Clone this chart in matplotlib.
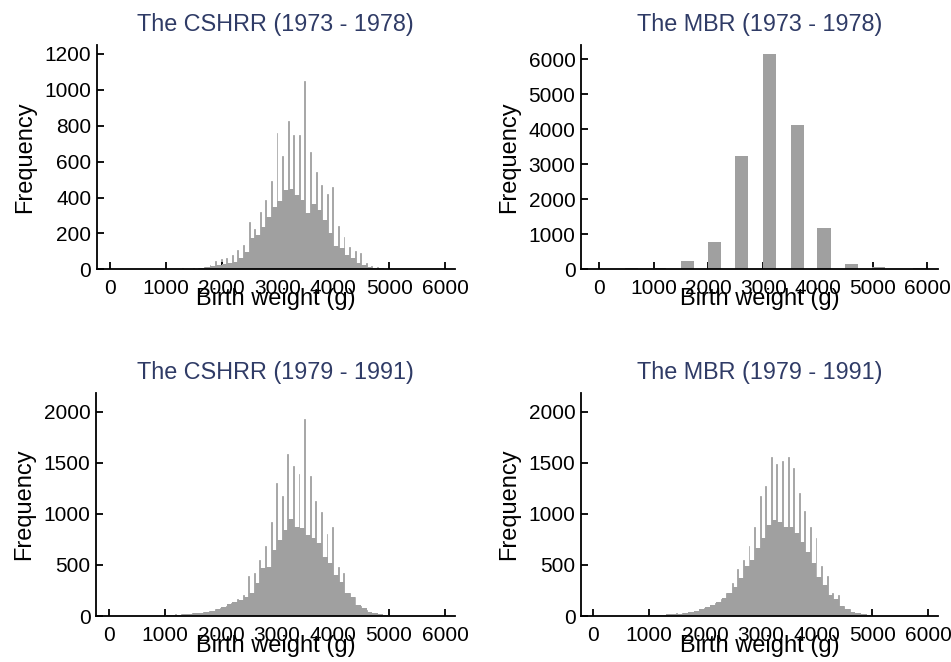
import matplotlib
matplotlib.use("Agg")
import matplotlib.pyplot as plt

plt.rcParams['font.family'] = ['Liberation Sans', 'DejaVu Sans']

# ---- data -------------------------------------------------------------
# 100 g grid of birth weights (g)
weight_grid = [0, 100, 200, 300, 400, 500, 600, 700, 800, 900,
               1000, 1100, 1200, 1300, 1400, 1500, 1600, 1700, 1800, 1900,
               2000, 2100, 2200, 2300, 2400, 2500, 2600, 2700, 2800, 2900,
               3000, 3100, 3200, 3300, 3400, 3500, 3600, 3700, 3800, 3900,
               4000, 4100, 4200, 4300, 4400, 4500, 4600, 4700, 4800, 4900,
               5000, 5100, 5200, 5300, 5400, 5500, 5600, 5700, 5800, 5900,
               6000]

# CSHRR 1973-1978: counts at exact hundreds (heaping) and in-between counts
cshrr7378_spike = [0, 0, 0, 0, 0, 0, 0, 0, 0, 3,
                   5, 4, 4, 5, 4, 5, 9, 15, 24, 48,
                   56, 61, 80, 107, 135, 265, 222, 320, 385, 490,
                   761, 633, 826, 750, 750, 1052, 654, 543, 472, 418,
                   459, 243, 178, 126, 104, 89, 33, 18, 11, 4,
                   6, 2, 3, 3, 3, 4, 2, 1, 0, 0,
                   0]
cshrr7378_base = [0, 0, 0, 0, 0, 0, 0, 0, 2, 3,
                  3, 3, 3, 3, 3, 4, 9, 15, 18, 24,
                  30, 33, 43, 61, 98, 172, 190, 237, 292, 348,
                  380, 440, 450, 413, 385, 311, 363, 330, 274, 200,
                  130, 117, 80, 61, 33, 24, 15, 8, 5, 3,
                  2, 1, 2, 1, 2, 1, 1, 0, 0, 0,
                  0]

# MBR 1973-1978: grouped in ~500 g classes
mbr7378_centers = [600, 1110, 1610, 2110, 2610, 3120, 3620, 4110, 4610, 5110, 5860]
mbr7378_counts = [50, 40, 237, 790, 3230, 6130, 4130, 1185, 140, 55, 45]

# CSHRR 1979-1991
cshrr7991_spike = [0, 0, 0, 0, 0, 3, 0, 0, 0, 3,
                   7, 10, 16, 16, 20, 26, 33, 42, 49, 65,
                   82, 98, 131, 163, 205, 395, 418, 548, 685, 917,
                   1299, 1178, 1582, 1468, 1390, 1925, 1370, 1129, 1015, 803,
                   874, 476, 418, 222, 189, 98, 59, 33, 20, 10,
                   8, 4, 3, 3, 3, 4, 3, 4, 3, 2,
                   2]
cshrr7991_base = [0, 0, 0, 0, 0, 0, 0, 0, 2, 3,
                  7, 10, 13, 16, 20, 26, 33, 39, 49, 65,
                  91, 117, 140, 160, 185, 230, 320, 467, 483, 646,
                  744, 842, 946, 874, 858, 793, 760, 711, 581, 515,
                  401, 336, 222, 189, 108, 75, 42, 26, 16, 5,
                  3, 2, 2, 2, 2, 2, 2, 2, 2, 1,
                  0]

# MBR 1979-1991
mbr7991_spike = [0, 0, 0, 0, 0, 0, 0, 3, 3, 3,
                 7, 10, 10, 13, 16, 33, 26, 33, 42, 52,
                 75, 91, 124, 163, 222, 320, 457, 548, 685, 874,
                 1175, 1272, 1560, 1484, 1520, 1560, 1445, 1207, 1028, 874,
                 760, 489, 392, 222, 206, 98, 65, 33, 20, 13,
                 8, 4, 4, 3, 3, 3, 2, 3, 2, 2,
                 2]
mbr7991_base = [0, 0, 0, 0, 0, 0, 0, 3, 3, 4,
                10, 10, 13, 16, 20, 23, 29, 39, 49, 65,
                91, 108, 140, 173, 222, 287, 369, 489, 548, 662,
                760, 890, 940, 923, 874, 874, 809, 727, 630, 515,
                385, 303, 206, 163, 98, 65, 42, 26, 16, 10,
                4, 3, 3, 3, 2, 2, 2, 1, 1, 1,
                0]

titles = ["The CSHRR (1973 - 1978)", "The MBR (1973 - 1978)",
          "The CSHRR (1979 - 1991)", "The MBR (1979 - 1991)"]
x_ticks = [0, 1000, 2000, 3000, 4000, 5000, 6000]
y_ticks_1 = [0, 200, 400, 600, 800, 1000, 1200]
y_ticks_2 = [0, 1000, 2000, 3000, 4000, 5000, 6000]
y_ticks_3 = [0, 500, 1000, 1500, 2000]
y_ticks_4 = [0, 500, 1000, 1500, 2000]

# ---- style ------------------------------------------------------------
BAR = '#a0a0a0'
TITLE_C = '#2f3b66'
W, H = 951, 662

fig = plt.figure(figsize=(W / 100, H / 100), dpi=100)


def make_axes(left, right, bottom, top):
    return fig.add_axes([left / W, 1 - bottom / H, (right - left) / W, (bottom - top) / H])


ax1 = make_axes(96.7, 455, 269.3, 45)
ax2 = make_axes(581, 938, 269.3, 45)
ax3 = make_axes(96, 455, 616, 393.3)
ax4 = make_axes(581, 938, 616, 393.3)


def heaped_hist(ax, spike, base):
    edges = weight_grid + [weight_grid[-1] + 100]
    ax.bar(weight_grid, spike, width=34, align='center', color='#9a9a9a',
           edgecolor='white', linewidth=0.2, zorder=1)
    ax.stairs(base, edges, fill=True, color=BAR, linewidth=0, zorder=2)


heaped_hist(ax1, cshrr7378_spike, cshrr7378_base)
ax2.bar(mbr7378_centers, mbr7378_counts, width=240, color=BAR, linewidth=0, zorder=2)
heaped_hist(ax3, cshrr7991_spike, cshrr7991_base)
heaped_hist(ax4, mbr7991_spike, mbr7991_base)

settings = [
    (ax1, titles[0], (-238, 6179), 1250, y_ticks_1),
    (ax2, titles[1], (-328, 6193), 6400, y_ticks_2),
    (ax3, titles[2], (-238, 6179), 2180, y_ticks_3),
    (ax4, titles[3], (-221, 6179), 2180, y_ticks_4),
]

for ax, title, xl, ytop, yt in settings:
    ax.set_xlim(*xl)
    ax.set_ylim(0, ytop)
    ax.set_xticks(x_ticks)
    ax.set_yticks(yt)
    for s in ['top', 'right']:
        ax.spines[s].set_visible(False)
    for s in ['left', 'bottom']:
        ax.spines[s].set_linewidth(1.3)
        ax.spines[s].set_zorder(5)
    ax.tick_params(axis='both', direction='in', length=5, width=1.3,
                   labelsize=15, colors='black')
    ax.tick_params(axis='y', pad=4)
    ax.tick_params(axis='x', pad=7)
    ax.set_title(title, fontsize=16.8, color=TITLE_C, pad=10)
    ax.set_ylabel('Frequency', fontsize=17, labelpad=6)
    ax.set_xlabel('Birth weight (g)', fontsize=17, labelpad=-7)
    ax.patch.set_visible(False)

fig.savefig('out.png', dpi=100, facecolor='white')
